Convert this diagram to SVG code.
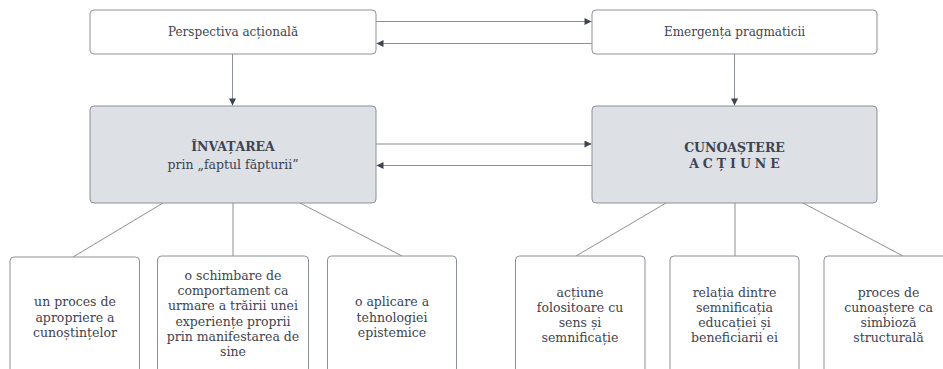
<svg xmlns="http://www.w3.org/2000/svg" width="943" height="369" viewBox="0 0 943 369">
  <style>
    .box { fill: #ffffff; stroke: #8b8f97; stroke-width: 1; }
    .main { fill: #dde0e5; stroke: #8b8f97; stroke-width: 1; }
    .lbl { font-family: "DejaVu Serif", "Liberation Serif", serif; font-size: 12px; fill: #3e4452; text-anchor: middle; }
    .sub { font-family: "DejaVu Serif", "Liberation Serif", serif; font-size: 12.5px; fill: #3e4452; text-anchor: middle; }
    .ttl { font-family: "DejaVu Serif", "Liberation Serif", serif; font-size: 12.5px; font-weight: bold; fill: #3e4452; text-anchor: middle; }
    .link { stroke: #8b8f97; stroke-width: 1; fill: none; }
    .flow { stroke: #8b8f97; stroke-width: 1; fill: none; marker-end: url(#head); }
  </style>
  <defs>
    <marker id="head" viewBox="0 0 10 10" refX="10" refY="5" markerWidth="8" markerHeight="7" markerUnits="userSpaceOnUse" orient="auto">
      <path d="M0,0 L10,5 L0,10 z" fill="#3e4452"/>
    </marker>
  </defs>

  <rect width="943" height="369" fill="#ffffff"/>

  <!-- connectors -->
  <g id="connectors">
    <line class="flow" x1="376" y1="21.5" x2="591.5" y2="21.5"/>
    <line class="flow" x1="592" y1="43.5" x2="376.5" y2="43.5"/>
    <line class="flow" x1="232.5" y1="54" x2="232.5" y2="105.5"/>
    <line class="flow" x1="734.5" y1="54" x2="734.5" y2="105.5"/>
    <line class="flow" x1="376" y1="144" x2="591.5" y2="144"/>
    <line class="flow" x1="592" y1="165.5" x2="376.5" y2="165.5"/>
    <line class="link" x1="163" y1="203" x2="73" y2="257"/>
    <line class="link" x1="233" y1="203" x2="233" y2="256"/>
    <line class="link" x1="300" y1="203" x2="402" y2="256"/>
    <line class="link" x1="666" y1="203" x2="576" y2="256"/>
    <line class="link" x1="735" y1="203" x2="735" y2="256"/>
    <line class="link" x1="803" y1="203" x2="903" y2="256"/>
  </g>

  <g id="perspectiva">
    <rect class="box" x="90" y="10" width="286" height="44" rx="4"/>
    <text class="lbl" x="233" y="36">Perspectiva acțională</text>
  </g>
  <g id="emergenta">
    <rect class="box" x="592" y="10" width="285" height="44" rx="4"/>
    <text class="lbl" x="734.5" y="36">Emergența pragmaticii</text>
  </g>

  <g id="invatarea">
    <rect class="main" x="90" y="106" width="286" height="97" rx="4"/>
    <text class="ttl" x="233" y="151">ÎNVAȚAREA</text>
    <text class="sub" x="233" y="169">prin „faptul făpturii”</text>
  </g>
  <g id="cunoastere">
    <rect class="main" x="592" y="106" width="285" height="97" rx="4"/>
    <text class="ttl" x="734.5" y="152" font-size="12">CUNOAȘTERE</text>
    <text class="ttl" x="736.5" y="168" font-size="12" letter-spacing="4">ACȚIUNE</text>
  </g>

  <g id="proces-apropriere">
    <rect class="box" x="10" y="257" width="129.5" height="130" rx="4"/>
    <text class="sub" x="75" y="306">un proces de</text>
    <text class="sub" x="75" y="321.5">apropriere a</text>
    <text class="sub" x="75" y="337">cunoștințelor</text>
  </g>
  <g id="schimbare-comportament">
    <rect class="box" x="157.5" y="256" width="151" height="130" rx="4"/>
    <text class="sub" x="233" y="279.5">o schimbare de</text>
    <text class="sub" x="233" y="294.5">comportament ca</text>
    <text class="sub" x="233" y="310">urmare a trăirii unei</text>
    <text class="sub" x="233" y="325.5">experiențe proprii</text>
    <text class="sub" x="233" y="341">prin manifestarea de</text>
    <text class="sub" x="233" y="356">sine</text>
  </g>
  <g id="aplicare-tehnologie">
    <rect class="box" x="327.5" y="256" width="129" height="130" rx="4"/>
    <text class="sub" x="392" y="306">o aplicare a</text>
    <text class="sub" x="392" y="321.5">tehnologiei</text>
    <text class="sub" x="392" y="337">epistemice</text>
  </g>

  <g id="actiune-folositoare">
    <rect class="box" x="515.5" y="256" width="129.5" height="130" rx="4"/>
    <text class="sub" x="580" y="296.5">acțiune</text>
    <text class="sub" x="580" y="311.5">folositoare cu</text>
    <text class="sub" x="580" y="326.5">sens și</text>
    <text class="sub" x="580" y="341.5">semnificație</text>
  </g>
  <g id="relatia-semnificatie">
    <rect class="box" x="670" y="256" width="129" height="130" rx="4"/>
    <text class="sub" x="734.5" y="296.5">relația dintre</text>
    <text class="sub" x="734.5" y="311.5">semnificația</text>
    <text class="sub" x="734.5" y="326.5">educației și</text>
    <text class="sub" x="734.5" y="341.5">beneficiarii ei</text>
  </g>
  <g id="proces-cunoastere">
    <rect class="box" x="824" y="256" width="129" height="130" rx="4"/>
    <text class="sub" x="888.5" y="296.5">proces de</text>
    <text class="sub" x="888.5" y="311.5">cunoaștere ca</text>
    <text class="sub" x="888.5" y="326.5">simbioză</text>
    <text class="sub" x="888.5" y="341.5">structurală</text>
  </g>
</svg>
